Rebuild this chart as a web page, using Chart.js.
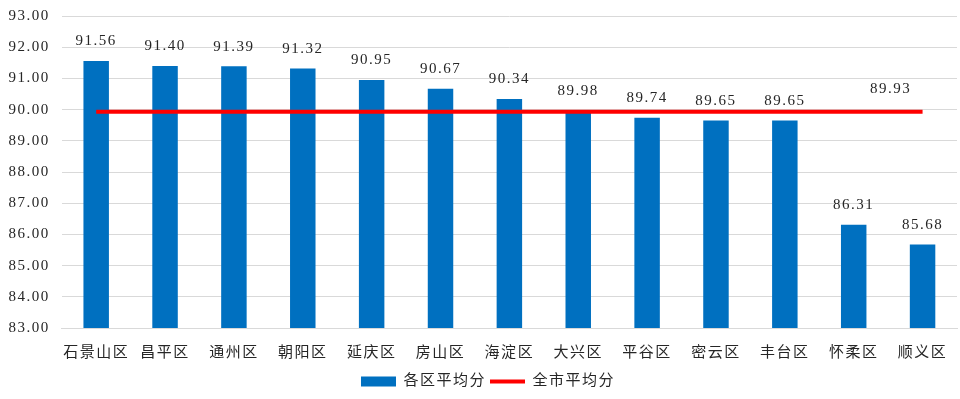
<!DOCTYPE html>
<html><head><meta charset="utf-8">
<script src="https://cdn.jsdelivr.net/npm/chart.js@4/dist/chart.umd.min.js"></script>
<style>html,body{margin:0;padding:0;background:#fff}#wrap{width:960px;height:399px}</style>
</head><body><div id="wrap"><canvas id="c"></canvas></div>
<script>
const categories = ['石景山区','昌平区','通州区','朝阳区','延庆区','房山区','海淀区','大兴区','平谷区','密云区','丰台区','怀柔区','顺义区'];
const districtAvg = [91.56,91.40,91.39,91.32,90.95,90.67,90.34,89.98,89.74,89.65,89.65,86.31,85.68];
const cityAvgValue = 89.93;
const cityAvg = categories.map(() => cityAvgValue);
const seriesNames = ['各区平均分','全市平均分'];

const FONT = '"Liberation Serif", "Noto Sans CJK SC", serif';

const spacingPlugin = {
  id: 'spacing',
  beforeDraw(chart){ chart.ctx.letterSpacing = '1.5px'; }
};
const labelPlugin = {
  id: 'valueLabels',
  afterDatasetsDraw(chart){
    const ctx = chart.ctx;
    ctx.save();
    ctx.letterSpacing = '1.5px';
    ctx.font = '15px ' + FONT;
    ctx.fillStyle = '#262626';
    ctx.textAlign = 'center';
    ctx.textBaseline = 'bottom';
    const bm = chart.getDatasetMeta(0);
    bm.data.forEach((el, i) => {
      ctx.fillText(districtAvg[i].toFixed(2), el.x, el.y - 12);
    });
    const lm = chart.getDatasetMeta(1);
    const last = lm.data[lm.data.length - 1];
    ctx.fillText(cityAvgValue.toFixed(2), last.x - 32, last.y - 15);
    ctx.restore();
  }
};

new Chart(document.getElementById('c'), {
  data: {
    labels: categories,
    datasets: [
      { type: 'bar', label: seriesNames[0], data: districtAvg, backgroundColor: '#0070C0',
        categoryPercentage: 1, barPercentage: 0.37, pointStyle: 'rect', order: 2 },
      { type: 'line', label: seriesNames[1], data: cityAvg, borderColor: '#FF0000', backgroundColor: '#FF0000',
        borderWidth: 4, pointRadius: 0, pointStyle: 'line', order: 1 }
    ]
  },
  options: {
    responsive: true, maintainAspectRatio: false, animation: false,
    layout: { padding: { left: 4, right: 3, top: 0, bottom: 0 } },
    scales: {
      x: {
        grid: { display: false },
        border: { color: '#d9d9d9' },
        ticks: { font: { size: 15, family: FONT }, color: '#262626', padding: 8, maxRotation: 0, autoSkip: false }
      },
      y: {
        min: 83, max: 93,
        afterFit: s => { s.paddingTop = 16; },
        grid: { color: '#d9d9d9', lineWidth: 1, drawTicks: false },
        border: { display: false },
        ticks: { stepSize: 1, font: { size: 15, family: FONT }, color: '#262626', padding: 12,
          callback: v => Number(v).toFixed(2) }
      }
    },
    plugins: {
      legend: {
        position: 'bottom',
        labels: { usePointStyle: true, pointStyleWidth: 35, boxHeight: 10, font: { size: 15, family: FONT }, color: '#262626', padding: 4,
          sort: (a, b) => a.datasetIndex - b.datasetIndex }
      },
      tooltip: { enabled: false }
    }
  },
  plugins: [spacingPlugin, labelPlugin]
});
</script></body></html>
